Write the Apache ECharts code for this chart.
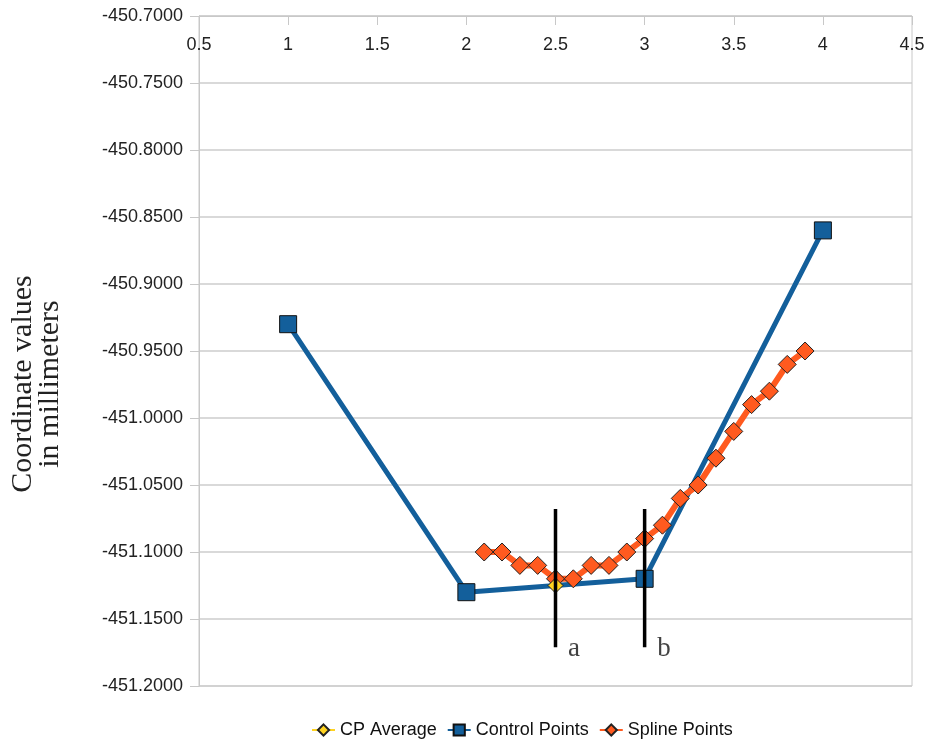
<!DOCTYPE html>
<html>
<head>
<meta charset="utf-8">
<script src="https://cdn.jsdelivr.net/npm/echarts@6/dist/echarts.min.js"></script>
<style>html,body{margin:0;padding:0;background:#fff;}#c{width:928px;height:742px;}</style>
</head>
<body>
<div id="c"></div>
<script>
var xTicks = [0.5, 1, 1.5, 2, 2.5, 3, 3.5, 4, 4.5];
var yTicks = [-451.2, -451.15, -451.1, -451.05, -451.0, -450.95, -450.9, -450.85, -450.8, -450.75, -450.7];
var controlX = [1, 2, 3, 4];
var controlY = [-450.93, -451.13, -451.12, -450.86];
var avgX = [2.5];
var avgY = [-451.125];
var splineX = [2.1, 2.2, 2.3, 2.4, 2.5, 2.6, 2.7, 2.8, 2.9, 3.0, 3.1, 3.2, 3.3, 3.4, 3.5, 3.6, 3.7, 3.8, 3.9];
var splineY = [-451.10, -451.10, -451.11, -451.11, -451.12, -451.12, -451.11, -451.11, -451.10, -451.09, -451.08, -451.06, -451.05, -451.03, -451.01, -450.99, -450.98, -450.96, -450.95];
var markerNames = ['a', 'b'];
var markerX = [2.5, 3.0];
var markerTop = -451.068;
var markerBottom = -451.171;

function pairs(xs, ys) { return xs.map(function (x, i) { return [x, ys[i]]; }); }

var series = [
  {
    name: 'Control Points', type: 'line', data: pairs(controlX, controlY),
    symbol: 'rect', symbolSize: 17, z: 2,
    lineStyle: { color: '#135f9b', width: 5 },
    itemStyle: { color: '#135f9b', borderColor: '#111', borderWidth: 1 }
  },
  {
    name: 'Spline Points', type: 'line', data: pairs(splineX, splineY),
    symbol: 'diamond', symbolSize: 18, z: 3,
    lineStyle: { color: '#ff5a1f', width: 6 },
    itemStyle: { color: '#ff5a1f', borderColor: '#222', borderWidth: 1 }
  },
  {
    name: 'CP Average', type: 'line', data: pairs(avgX, avgY),
    symbol: 'diamond', symbolSize: 15, z: 4,
    lineStyle: { color: '#ffd320', width: 4 },
    itemStyle: { color: '#ffd320', borderColor: '#222', borderWidth: 1 }
  }
];
markerX.forEach(function (mx, i) {
  series.push({
    name: 'marker-' + markerNames[i], type: 'line', z: 5, silent: true,
    symbol: 'none', showSymbol: false,
    lineStyle: { color: '#000', width: 3.5 },
    data: [[mx, markerTop], [mx, markerBottom]]
  });
  series.push({
    name: 'label-' + markerNames[i], type: 'scatter', z: 6, silent: true,
    symbolSize: 1, itemStyle: { color: 'rgba(0,0,0,0)' },
    data: [[mx, markerBottom]],
    label: { show: true, formatter: markerNames[i], position: 'right', distance: 12,
             fontFamily: 'Liberation Serif', fontSize: 27, color: '#111', offset: [0, 2] }
  });
});

var chart = echarts.init(document.getElementById('c'), null, { renderer: 'canvas' });
chart.setOption({
  animation: false,
  backgroundColor: '#fff',
  grid: { left: 199, right: 16, top: 16, bottom: 56, show: true, borderColor: '#c8c8c8', borderWidth: 1 },
  legend: {
    data: ['CP Average', 'Control Points', 'Spline Points'],
    left: 306, top: 716, itemGap: 10, itemWidth: 23, itemHeight: 14,
    textStyle: { fontFamily: 'Liberation Sans', fontSize: 18, color: '#111' }
  },
  xAxis: {
    type: 'value', position: 'top', min: xTicks[0], max: xTicks[xTicks.length - 1], interval: 0.5,
    axisLine: { lineStyle: { color: '#c8c8c8', width: 1 } },
    axisTick: { inside: true, length: 9, lineStyle: { color: '#c8c8c8' } },
    axisLabel: { inside: true, margin: 20, fontFamily: 'Liberation Sans', fontSize: 18, color: '#222',
                 formatter: function (v) { return String(+v.toFixed(1)); } },
    splitLine: { show: false }
  },
  yAxis: {
    type: 'value', min: yTicks[0], max: yTicks[yTicks.length - 1], interval: 0.05,
    axisLine: { show: true, lineStyle: { color: '#c8c8c8', width: 1 } },
    axisTick: { show: true, length: 9, lineStyle: { color: '#c8c8c8' } },
    axisLabel: { margin: 16, fontFamily: 'Liberation Sans', fontSize: 18, color: '#222',
                 formatter: function (v) { return v.toFixed(4); } },
    splitLine: { show: true, lineStyle: { color: '#cccccc', width: 1.5 } }
  },
  graphic: [
    { type: 'text', x: 37, y: 384, rotation: Math.PI / 2,
      style: { text: 'Coordinate values\nin millimeters', fontFamily: 'Liberation Serif', fontSize: 30,
               lineHeight: 27, fill: '#222', align: 'center', verticalAlign: 'middle' } }
  ],
  series: series
});
</script>
</body>
</html>
